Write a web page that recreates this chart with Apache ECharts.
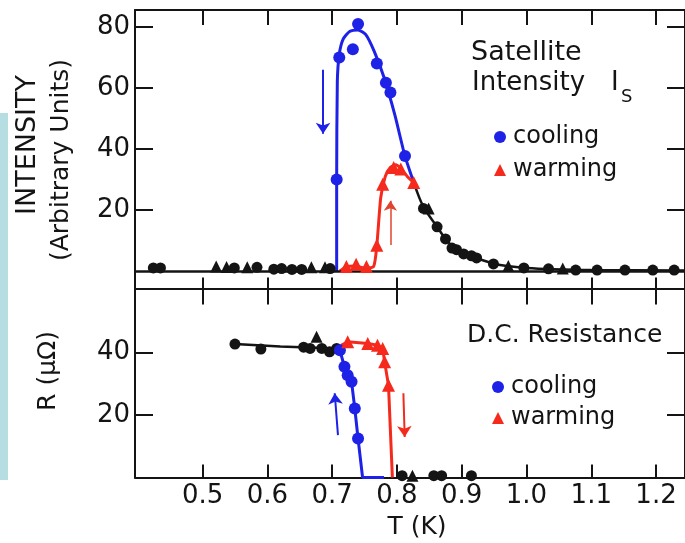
<!DOCTYPE html>
<html>
<head>
<meta charset="utf-8">
<script src="https://cdn.jsdelivr.net/npm/echarts@6/dist/echarts.min.js"></script>
<style>
html,body{margin:0;padding:0;background:#fff;overflow:hidden;}
#chart{width:685px;height:543px;}
</style>
</head>
<body>
<div id="chart"></div>
<script>
// ---------- axis ticks ----------
const T_TICKS = [0.5, 0.6, 0.7, 0.8, 0.9, 1.0, 1.1, 1.2];
const I_TICKS = [20, 40, 60, 80];
const R_TICKS = [20, 40];

// ---------- upper panel: satellite intensity ----------
// black measured points (circles)
const topBlackCircT = [0.424, 0.435, 0.549, 0.584, 0.61, 0.622, 0.638, 0.653, 0.697,
  0.841, 0.862, 0.875, 0.885, 0.892, 0.903, 0.915, 0.923, 0.949, 0.996, 1.034, 1.076, 1.109, 1.152, 1.195, 1.228];
const topBlackCircI = [1.0, 1.0, 1.0, 1.2, 0.6, 0.8, 0.5, 0.5, 0.8,
  20.5, 14.5, 10.5, 7.5, 7.0, 5.6, 5.0, 4.3, 2.3, 1.0, 0.7, 0.3, 0.3, 0.3, 0.3, 0.3];
// black measured points (triangles)
const topBlackTriT = [0.521, 0.537, 0.569, 0.668, 0.689, 0.849, 0.972, 1.056];
const topBlackTriI = [1.5, 1.3, 1.2, 1.2, 1.2, 20.5, 1.6, 0.8];
// black fitted curve
const topBlackLineT = [0.826, 0.841, 0.862, 0.875, 0.89, 0.903, 0.92, 0.95, 0.97, 1.0, 1.04, 1.1, 1.245];
const topBlackLineI = [29, 21, 14.5, 10.5, 7.3, 5.6, 4.4, 2.4, 1.6, 1.0, 0.6, 0.3, 0.2];
// cooling (blue)
const topCoolT = [0.707, 0.711, 0.732, 0.74, 0.769, 0.783, 0.79, 0.8125];
const topCoolI = [30, 70, 72.7, 81, 68, 61.7, 58.5, 37.7];
const topCoolLineT = [0.707, 0.707, 0.708, 0.711, 0.717, 0.727, 0.74, 0.752, 0.765, 0.78, 0.797, 0.812, 0.826];
const topCoolLineI = [0, 30, 62, 71, 76, 78.5, 79, 77.5, 72, 63.5, 51, 38, 29];
// warming (red)
const topWarmT = [0.722, 0.737, 0.753, 0.769, 0.778, 0.795, 0.806, 0.826];
const topWarmI = [1.5, 2.2, 1.5, 8.4, 28.4, 33.9, 33.4, 29];
const topWarmLineT = [0.712, 0.72, 0.735, 0.75, 0.764, 0.769, 0.775, 0.782, 0.79, 0.798, 0.806, 0.816, 0.826];
const topWarmLineI = [0, 1.2, 1.6, 1.0, 1.5, 8.4, 24, 31, 34, 34.8, 33.6, 31, 29];

// ---------- lower panel: D.C. resistance ----------
const botBlackCircT = [0.55, 0.59, 0.656, 0.666, 0.684, 0.696, 0.707, 0.808, 0.857, 0.869, 0.915];
const botBlackCircR = [42.8, 41.2, 41.8, 41.4, 41.4, 40.3, 41.4, 0.6, 0.6, 0.6, 0.6];
const botBlackTriT = [0.676, 0.824];
const botBlackTriR = [45.1, 0.6];
const botBlackLineT = [0.55, 0.62, 0.707];
const botBlackLineR = [42.8, 42.0, 41.4];
const botCoolT = [0.712, 0.719, 0.724, 0.73, 0.735, 0.74];
const botCoolR = [40.8, 35.5, 32.8, 30.7, 22.1, 12.5];
const botCoolLineT = [0.707, 0.712, 0.719, 0.724, 0.73, 0.735, 0.74, 0.747, 0.78];
const botCoolLineR = [41.4, 40.8, 35.5, 32.8, 30.7, 22.1, 12.5, 0, 0];
const botWarmT = [0.724, 0.755, 0.77, 0.778, 0.781, 0.787];
const botWarmR = [43.5, 43.0, 42.4, 41.4, 37.1, 29.6];
const botWarmLineT = [0.714, 0.724, 0.755, 0.77, 0.778, 0.781, 0.787, 0.793];
const botWarmLineR = [42.4, 43.5, 43.0, 42.4, 41.4, 37.1, 29.6, 0];

// arrows [T start, value start, T end, value end]
const arrowTopCool = [0.686, 66, 0.686, 45];
const arrowTopWarm = [0.79, 8.5, 0.79, 23];
const arrowBotCool = [0.709, 13.6, 0.704, 27];
const arrowBotWarm = [0.81, 27, 0.812, 13];

// ---------- styling ----------
const BLUE = '#1e22e6';
const RED = '#f52a1c';
const BLACK = '#141414';
const FONT = '"DejaVu Sans", sans-serif';
const XMIN = 0.3957, XMAX = 1.2447;

function zip(a, b) { return a.map((v, i) => [v, b[i]]); }
function arrow(a, color, width) {
  return [{ coord: [a[0], a[1]] }, { coord: [a[2], a[3]], lineStyle: { color: color, width: width } }];
}

const axisLineStyle = { show: true, onZero: false, lineStyle: { color: BLACK, width: 2 } };
function xAx(gridIndex, position, tickLen, showLabel) {
  return {
    type: 'value', gridIndex: gridIndex, position: position, min: XMIN, max: XMAX,
    axisLine: axisLineStyle,
    axisTick: { show: true, inside: true, length: tickLen, customValues: T_TICKS, lineStyle: { color: BLACK, width: 2 } },
    axisLabel: { show: showLabel, customValues: T_TICKS, formatter: v => v.toFixed(1), margin: 6,
      fontSize: 26, fontFamily: FONT, color: BLACK },
    splitLine: { show: false }
  };
}
function yAx(gridIndex, position, min, max, ticks, showLabel) {
  return {
    type: 'value', gridIndex: gridIndex, position: position, min: min, max: max,
    axisLine: axisLineStyle,
    axisTick: { show: true, inside: true, length: 18, customValues: ticks, lineStyle: { color: BLACK, width: 2 } },
    axisLabel: { show: showLabel, customValues: ticks, margin: 5, fontSize: 26, fontFamily: FONT, color: BLACK },
    splitLine: { show: false }
  };
}
function legendBox(left, top, gap) {
  return { orient: 'vertical', left: left, top: top, itemWidth: 12, itemHeight: 12, itemGap: gap,
    selectedMode: false, textStyle: { fontSize: 24, fontFamily: FONT, color: BLACK, padding: [0, 0, 0, 2] },
    data: [{ name: 'cooling', icon: 'circle' }, { name: 'warming', icon: 'triangle' }] };
}

const chart = echarts.init(document.getElementById('chart'), null, { renderer: 'canvas' });
const option = {
  animation: false,
  backgroundColor: '#ffffff',
  grid: [
    { left: 135, top: 10, width: 556, height: 278.5 },
    { left: 135, top: 288.5, width: 556, height: 189 }
  ],
  xAxis: [
    xAx(0, 'bottom', 11, false),
    xAx(0, 'top', 15, false),
    xAx(1, 'top', 16, false),
    xAx(1, 'bottom', 13, true)
  ],
  yAxis: [
    yAx(0, 'left', -5.74, 85.57, I_TICKS, true),
    yAx(0, 'right', -5.74, 85.57, I_TICKS, false),
    yAx(1, 'left', 0, 60.6, R_TICKS, true),
    yAx(1, 'right', 0, 60.6, R_TICKS, false)
  ],
  legend: [legendBox(489, 120, 9), legendBox(487, 370, 7)],
  graphic: [
    { type: 'rect', z: -10, shape: { x: 0, y: 113, width: 8, height: 367 }, style: { fill: '#b6dde2' } },
    { type: 'text', x: 28, y: 145, rotation: Math.PI / 2, style: { text: 'INTENSITY', font: '27px ' + FONT, fill: BLACK, align: 'center', verticalAlign: 'middle' } },
    { type: 'text', x: 61, y: 160, rotation: Math.PI / 2, style: { text: '(Arbitrary Units)', font: '25px ' + FONT, fill: BLACK, align: 'center', verticalAlign: 'middle' } },
    { type: 'text', x: 48, y: 371, rotation: Math.PI / 2, style: { text: 'R (μΩ)', font: '25px ' + FONT, fill: BLACK, align: 'center', verticalAlign: 'middle' } },
    { type: 'text', x: 417, y: 527, style: { text: 'T (K)', font: '25px ' + FONT, fill: BLACK, align: 'center', verticalAlign: 'middle' } },
    { type: 'text', x: 471, y: 53, style: { text: 'Satellite', font: '27px ' + FONT, fill: BLACK, align: 'left', verticalAlign: 'middle' } },
    { type: 'text', x: 472, y: 83, style: { text: 'Intensity', font: '26px ' + FONT, fill: BLACK, align: 'left', verticalAlign: 'middle' } },
    { type: 'text', x: 611, y: 83, style: { text: 'I', font: '26px ' + FONT, fill: BLACK, align: 'left', verticalAlign: 'middle' } },
    { type: 'text', x: 621, y: 97, style: { text: 'S', font: '18px ' + FONT, fill: BLACK, align: 'left', verticalAlign: 'middle' } },
    { type: 'text', x: 467, y: 335, style: { text: 'D.C. Resistance', font: '25px ' + FONT, fill: BLACK, align: 'left', verticalAlign: 'middle' } }
  ],
  series: [
    // ---- upper panel ----
    { name: 'fitBlackTop', type: 'line', xAxisIndex: 0, yAxisIndex: 0, data: zip(topBlackLineT, topBlackLineI),
      smooth: 0.3, showSymbol: false, lineStyle: { color: BLACK, width: 2.5 }, z: 2,
      markLine: { silent: true, symbol: 'none', label: { show: false }, lineStyle: { color: BLACK, width: 2.5, type: 'solid' }, data: [{ yAxis: 0 }] } },
    { name: 'fitCoolTop', type: 'line', xAxisIndex: 0, yAxisIndex: 0, data: zip(topCoolLineT, topCoolLineI),
      smooth: 0.2, showSymbol: false, lineStyle: { color: BLUE, width: 3 }, z: 3,
      markLine: { silent: true, symbol: ['none', 'arrow'], symbolSize: 11, label: { show: false },
        lineStyle: { color: BLUE, width: 2, type: 'solid' }, data: [arrow(arrowTopCool, BLUE, 2)] } },
    { name: 'fitWarmTop', type: 'line', xAxisIndex: 0, yAxisIndex: 0, data: zip(topWarmLineT, topWarmLineI),
      smooth: 0.2, showSymbol: false, lineStyle: { color: RED, width: 3 }, z: 4,
      markLine: { silent: true, symbol: ['none', 'arrow'], symbolSize: 10, label: { show: false },
        lineStyle: { color: '#e0442e', width: 1.5, type: 'solid' }, data: [arrow(arrowTopWarm, '#e0442e', 1.5)] } },
    { name: 'blackCircTop', type: 'scatter', xAxisIndex: 0, yAxisIndex: 0, data: zip(topBlackCircT, topBlackCircI),
      symbol: 'circle', symbolSize: 11, itemStyle: { color: BLACK, opacity: 1 }, z: 5 },
    { name: 'blackTriTop', type: 'scatter', xAxisIndex: 0, yAxisIndex: 0, data: zip(topBlackTriT, topBlackTriI),
      symbol: 'triangle', symbolSize: 12, itemStyle: { color: BLACK, opacity: 1 }, z: 5 },
    { name: 'cooling', type: 'scatter', xAxisIndex: 0, yAxisIndex: 0, data: zip(topCoolT, topCoolI),
      symbol: 'circle', symbolSize: 12, itemStyle: { color: BLUE, opacity: 1 }, z: 6 },
    { name: 'warming', type: 'scatter', xAxisIndex: 0, yAxisIndex: 0, data: zip(topWarmT, topWarmI),
      symbol: 'triangle', symbolSize: 13, itemStyle: { color: RED, opacity: 1 }, z: 6 },
    // ---- lower panel ----
    { name: 'fitBlackBot', type: 'line', xAxisIndex: 3, yAxisIndex: 2, data: zip(botBlackLineT, botBlackLineR),
      showSymbol: false, lineStyle: { color: BLACK, width: 2.5 }, z: 2 },
    { name: 'fitCoolBot', type: 'line', xAxisIndex: 3, yAxisIndex: 2, data: zip(botCoolLineT, botCoolLineR),
      showSymbol: false, lineStyle: { color: BLUE, width: 3 }, z: 3,
      markLine: { silent: true, symbol: ['none', 'arrow'], symbolSize: 11, label: { show: false },
        lineStyle: { color: BLUE, width: 2, type: 'solid' }, data: [arrow(arrowBotCool, BLUE, 2)] } },
    { name: 'fitWarmBot', type: 'line', xAxisIndex: 3, yAxisIndex: 2, data: zip(botWarmLineT, botWarmLineR),
      showSymbol: false, lineStyle: { color: RED, width: 3 }, z: 4,
      markLine: { silent: true, symbol: ['none', 'arrow'], symbolSize: 11, label: { show: false },
        lineStyle: { color: RED, width: 2, type: 'solid' }, data: [arrow(arrowBotWarm, RED, 2)] } },
    { name: 'blackCircBot', type: 'scatter', xAxisIndex: 3, yAxisIndex: 2, data: zip(botBlackCircT, botBlackCircR),
      symbol: 'circle', symbolSize: 11, itemStyle: { color: BLACK, opacity: 1 }, z: 5 },
    { name: 'blackTriBot', type: 'scatter', xAxisIndex: 3, yAxisIndex: 2, data: zip(botBlackTriT, botBlackTriR),
      symbol: 'triangle', symbolSize: 12, itemStyle: { color: BLACK, opacity: 1 }, z: 5 },
    { name: 'cooling', type: 'scatter', xAxisIndex: 3, yAxisIndex: 2, data: zip(botCoolT, botCoolR),
      symbol: 'circle', symbolSize: 12, itemStyle: { color: BLUE, opacity: 1 }, z: 6 },
    { name: 'warming', type: 'scatter', xAxisIndex: 3, yAxisIndex: 2, data: zip(botWarmT, botWarmR),
      symbol: 'triangle', symbolSize: 13, itemStyle: { color: RED, opacity: 1 }, z: 6 }
  ]
};
chart.setOption(option);
</script>
</body>
</html>
